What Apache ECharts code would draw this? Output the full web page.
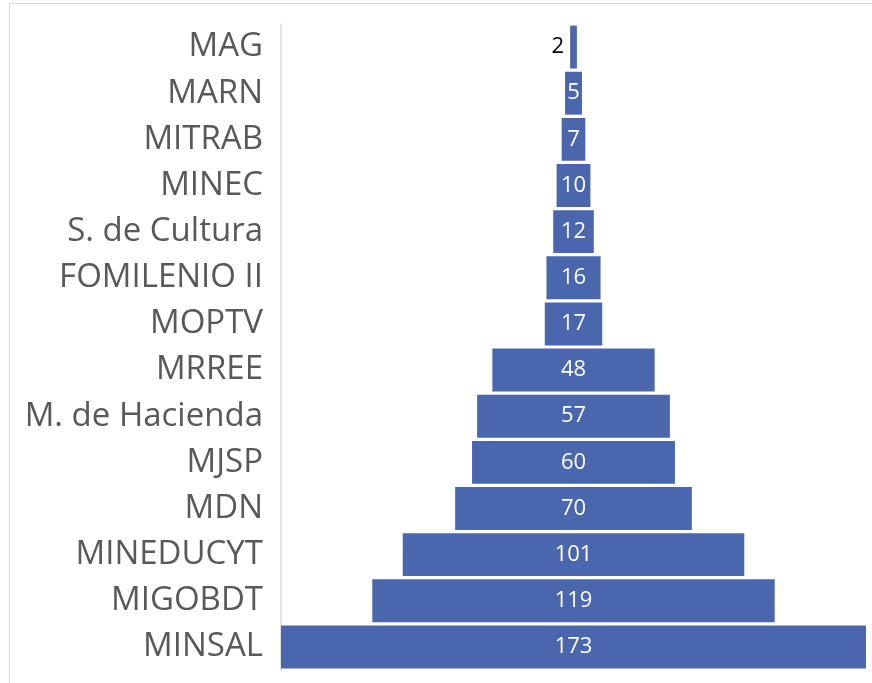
<!DOCTYPE html>
<html>
<head>
<meta charset="utf-8">
<script src="https://cdn.jsdelivr.net/npm/echarts@6/dist/echarts.min.js"></script>
<style>
  html, body { margin: 0; padding: 0; background: #fff; }
  #frame { position: absolute; left: 9px; top: 3px; width: 900px; height: 700px; border: 1.5px solid #d9d9d9; box-sizing: border-box; }
  #chart { position: absolute; left: 0; top: 0; width: 872px; height: 683px; }
</style>
</head>
<body>
<div id="frame"></div>
<div id="chart"></div>
<script>
// ministerios (de arriba hacia abajo)
const categories = ['MAG', 'MARN', 'MITRAB', 'MINEC', 'S. de Cultura', 'FOMILENIO II', 'MOPTV',
  'MRREE', 'M. de Hacienda', 'MJSP', 'MDN', 'MINEDUCYT', 'MIGOBDT', 'MINSAL']
const values = [2, 5, 7, 10, 12, 16, 17, 48, 57, 60, 70, 101, 119, 173]

const maxValue = Math.max(...values)
// barra invisible para centrar cada barra (forma de embudo)
const offsets = values.map(v => (maxValue - v) / 2)

const chart = echarts.init(document.getElementById('chart'))
chart.setOption({
  animation: false,
  grid: { left: 281, right: 6, top: 24, bottom: 13 },
  xAxis: {
    type: 'value',
    min: 0,
    max: maxValue,
    show: false
  },
  yAxis: {
    type: 'category',
    data: categories,
    inverse: true,
    axisLine: { show: true, lineStyle: { color: '#d9d9d9', width: 1.5 } },
    axisTick: { show: false },
    axisLabel: {
      color: '#595959',
      fontSize: 33,
      fontFamily: 'Open Sans',
      margin: 18
    }
  },
  series: [
    {
      type: 'bar',
      stack: 'total',
      data: offsets,
      itemStyle: { color: 'transparent' },
      silent: true,
      barCategoryGap: '7%'
    },
    {
      type: 'bar',
      stack: 'total',
      barCategoryGap: '7%',
      data: values.map((v, i) => {
        if (i === 0) {
          return { value: v, label: { position: 'left', color: '#000', distance: 6 } }
        }
        return v
      }),
      itemStyle: { color: '#4a66ac' },
      label: {
        show: true,
        position: 'inside',
        color: '#fff',
        fontSize: 22,
        fontFamily: 'Open Sans'
      }
    }
  ]
})
</script>
</body>
</html>
